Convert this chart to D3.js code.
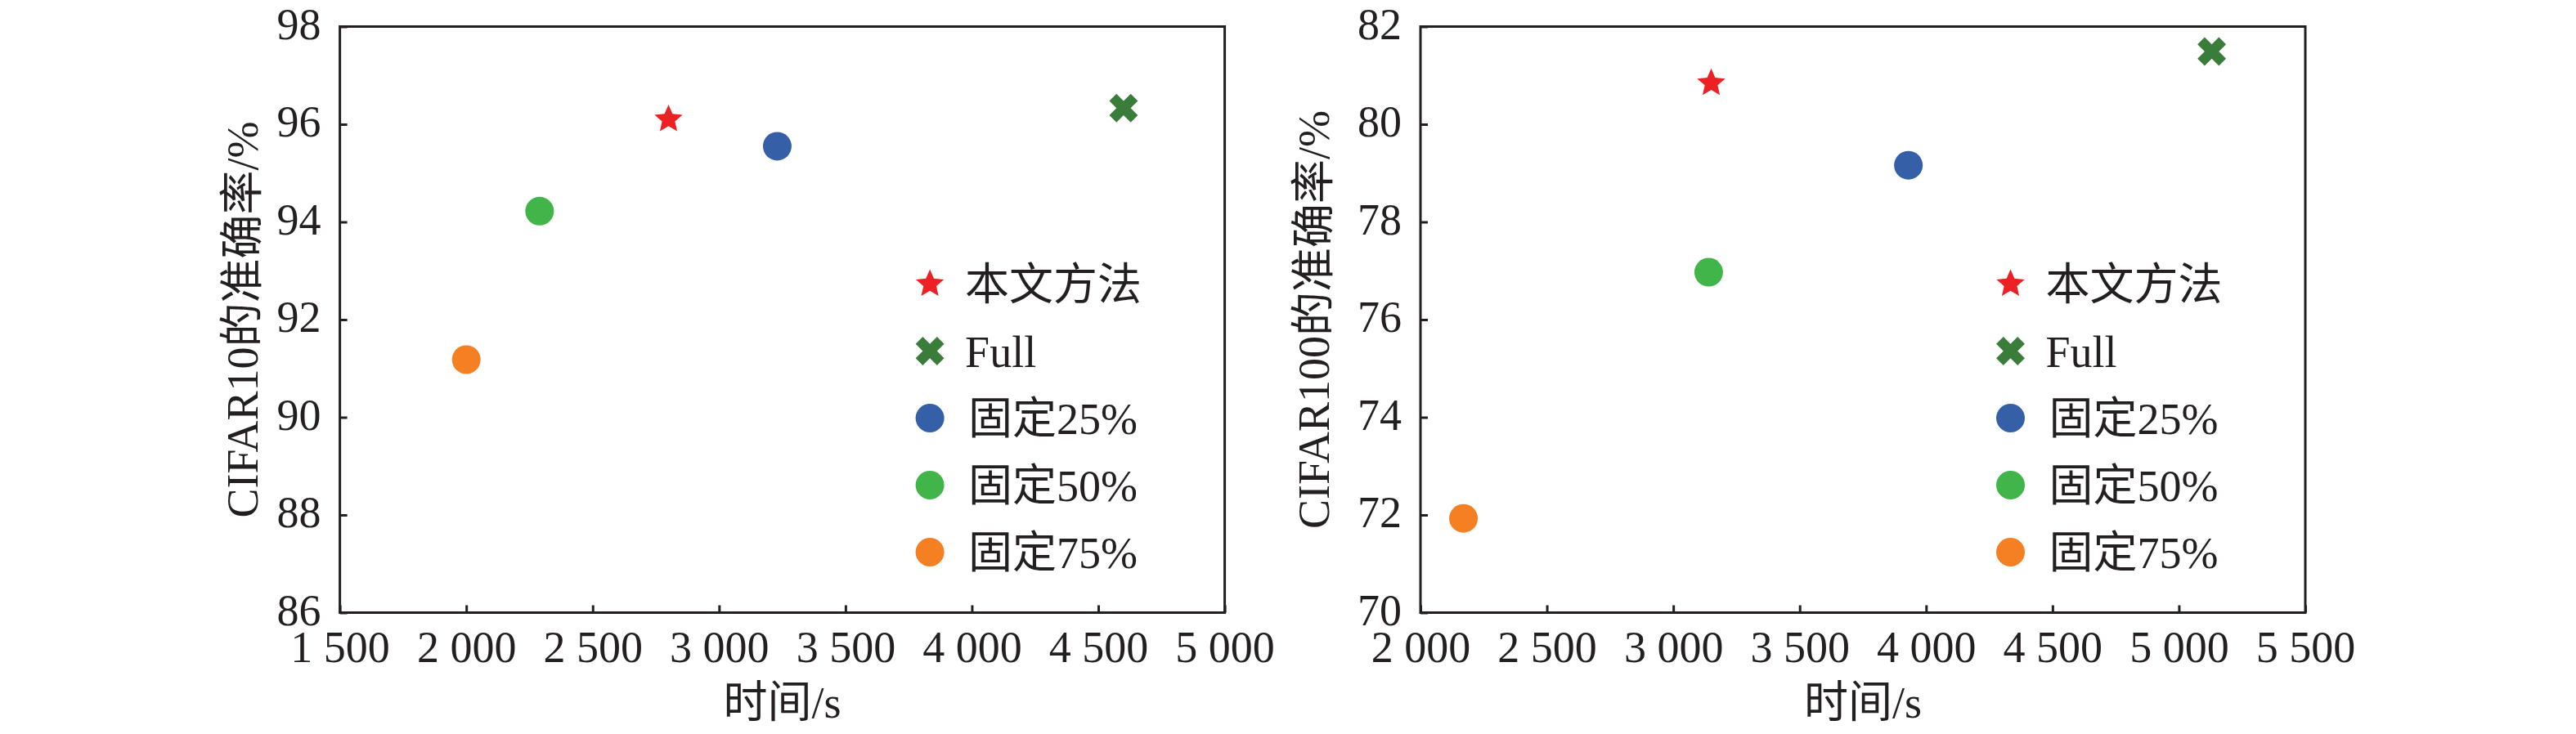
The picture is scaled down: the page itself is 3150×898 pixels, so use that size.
<!DOCTYPE html>
<html>
<head>
<meta charset="utf-8">
<title>CIFAR accuracy vs time</title>
<script src="https://d3js.org/d3.v7.min.js"></script>
<style>
  body { margin: 0; background: #fff; }
  text { font-family: "Liberation Serif", "Noto Sans CJK SC", serif; fill: #231f20; }
</style>
</head>
<body>
<div id="chart"></div>
<script>
// legend / series names, in legend order
var methods = ["本文方法", "Full", "固定25%", "固定50%", "固定75%"];
var colors = ["#ed2024", "#3a7d3b", "#3560a8", "#42b54a", "#f48023"];
var shapes = ["star", "x", "circle", "circle", "circle"];

// CIFAR10 panel
var timeC10 = [2800, 4600, 3230, 2290, 2000];
var accC10 = [96.1, 96.33, 95.55, 94.22, 91.18];
var xTicksC10 = [1500, 2000, 2500, 3000, 3500, 4000, 4500, 5000];
var yTicksC10 = [86, 88, 90, 92, 94, 96, 98];

// CIFAR100 panel
var timeC100 = [3150, 5130, 3930, 3140, 2170];
var accC100 = [80.84, 81.49, 79.16, 76.97, 71.93];
var xTicksC100 = [2000, 2500, 3000, 3500, 4000, 4500, 5000, 5500];
var yTicksC100 = [70, 72, 74, 76, 78, 80, 82];

var svg = d3.select("#chart").append("svg")
    .attr("width", 3150)
    .attr("height", 898);

var fmt = d3.formatLocale({decimal: ".", thousands: " ", grouping: [3], currency: ["", ""]}).format(",");

// a slightly fatter star than d3.symbolStar
var fatStar = {
    draw: function(context, size) {
        var r = Math.sqrt(size), ri = r * 0.46;
        for (var k = 0; k < 10; k++) {
            var rr = k % 2 ? ri : r, a = -Math.PI / 2 + k * Math.PI / 5;
            if (k == 0) context.moveTo(rr * Math.cos(a), rr * Math.sin(a));
            else context.lineTo(rr * Math.cos(a), rr * Math.sin(a));
        }
        context.closePath();
    }
};

function drawPanel(opt) {
    var width = 1082, height = 717;
    var g = svg.append("g")
        .attr("transform", "translate(" + opt.left + ",32.5)");

    var x = d3.scaleLinear()
        .domain(d3.extent(opt.xTicks))
        .range([0, width]);
    var y = d3.scaleLinear()
        .domain(d3.extent(opt.yTicks))
        .range([height, 0]);

    // x axis, ticks pointing in
    var xg = g.append("g")
        .attr("transform", "translate(0," + height + ")")
        .call(d3.axisBottom(x).tickValues(opt.xTicks).tickSize(-9).tickSizeOuter(0).tickFormat(fmt));
    xg.select(".domain").remove();
    xg.selectAll("line").attr("stroke", "#231f20").attr("stroke-width", 3);
    xg.selectAll("text")
        .attr("y", 60.5).attr("dy", 0)
        .style("font-size", "54px")
        .attr("fill", "#231f20");

    // y axis
    var yg = g.append("g")
        .call(d3.axisLeft(y).tickValues(opt.yTicks).tickSize(-9).tickSizeOuter(0));
    yg.select(".domain").remove();
    yg.selectAll("line").attr("stroke", "#231f20").attr("stroke-width", 3);
    yg.selectAll("text")
        .attr("x", -23).attr("dy", "0.27em")
        .style("font-size", "54px")
        .attr("fill", "#231f20");

    // frame
    g.append("rect")
        .attr("width", width)
        .attr("height", height)
        .attr("fill", "none")
        .attr("stroke", "#231f20")
        .attr("stroke-width", 3);

    // axis titles
    g.append("text")
        .attr("x", width / 2)
        .attr("y", height + 128)
        .style("text-anchor", "middle")
        .style("font-size", "54px")
        .text("时间/s");

    g.append("text")
        .attr("transform", "translate(" + opt.yTitleX + "," + (height / 2) + ") rotate(-90)")
        .attr("dy", "0.35em")
        .style("text-anchor", "middle")
        .style("font-size", "54px")
        .text(opt.yTitle);

    // points
    var data = opt.times.map(function(t, i) { return {t: t, a: opt.acc[i], i: i}; });
    g.selectAll(".pt")
        .data(data)
        .enter().append("path")
        .attr("class", "pt")
        .attr("transform", function(d) {
            return "translate(" + x(d.t) + "," + y(d.a) + ")" + (shapes[d.i] == "x" ? " rotate(45)" : "");
        })
        .attr("d", function(d) { return marker(shapes[d.i]); })
        .attr("fill", function(d) { return colors[d.i]; });

    // legend
    var lg = g.append("g")
        .attr("transform", "translate(" + (width - 360.5) + ",315)");
    methods.forEach(function(m, i) {
        var row = lg.append("g").attr("transform", "translate(0," + (i * 82) + ")");
        row.append("path")
            .attr("d", marker(shapes[i]))
            .attr("transform", shapes[i] == "x" ? "rotate(45)" : null)
            .attr("fill", colors[i]);
        row.append("text")
            .attr("x", i < 2 ? 43 : 47)
            .attr("dy", "0.36em")
            .style("font-size", "54px")
            .text(m);
    });
}

function marker(kind) {
    if (kind == "star") return d3.symbol(fatStar, 18 * 18)();
    if (kind == "x") return d3.symbol(d3.symbolCross, 760)();
    return d3.symbol(d3.symbolCircle, Math.PI * 17.5 * 17.5)();
}

drawPanel({left: 415.6, times: timeC10, acc: accC10, xTicks: xTicksC10, yTicks: yTicksC10,
    yTitle: "CIFAR10的准确率/%", yTitleX: -120});
drawPanel({left: 1737, times: timeC100, acc: accC100, xTicks: xTicksC100, yTicks: yTicksC100,
    yTitle: "CIFAR100的准确率/%", yTitleX: -131});
</script>
</body>
</html>
